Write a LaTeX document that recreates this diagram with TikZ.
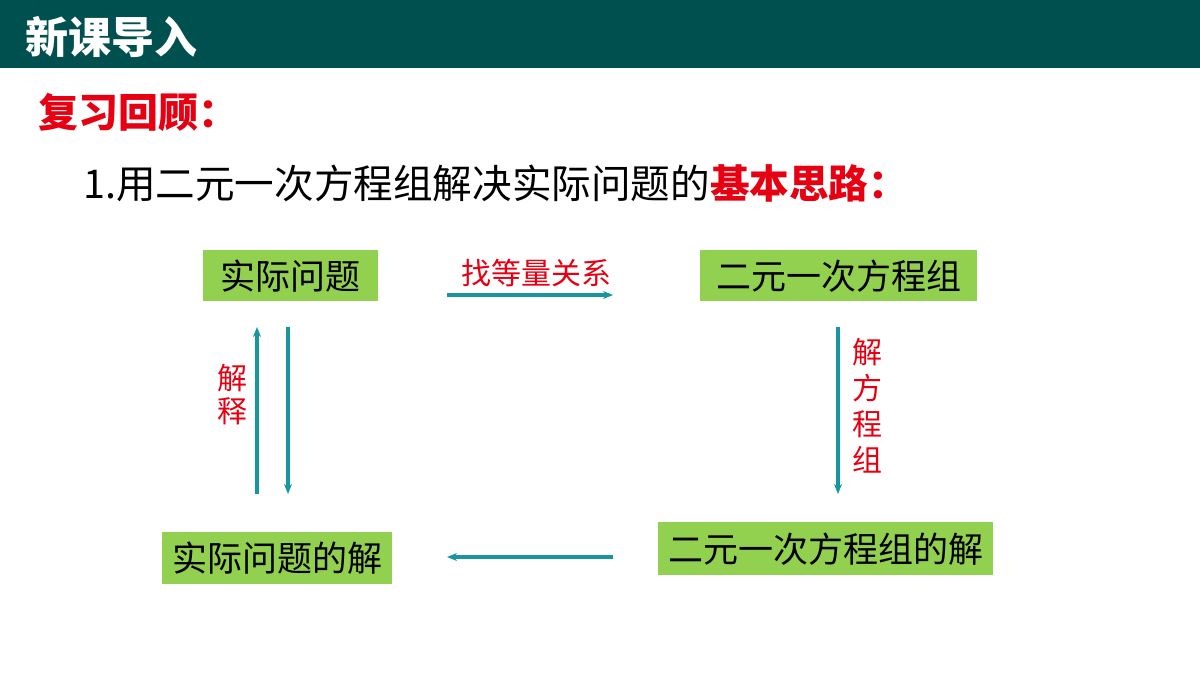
\documentclass[tikz,border=0pt]{standalone}
\usepackage{fontspec}
\setmainfont{Noto Sans CJK SC}
\usetikzlibrary{arrows.meta,positioning}
\definecolor{barteal}{RGB}{0,80,80}
\definecolor{boxgreen}{RGB}{146,208,80}
\definecolor{arrteal}{RGB}{24,150,160}
\definecolor{hired}{RGB}{230,0,18}
\tikzset{
  stepbox/.style={fill=boxgreen,inner sep=0pt,anchor=north west,font=\fontsize{17.5}{20}\selectfont},
  flow/.style={draw=arrteal,line width=1.6pt,-{Stealth[length=5pt,width=4pt]}},
  lab/.style={text=hired,font=\fontsize{15}{17}\selectfont,inner sep=0pt}
}
\begin{document}
\begin{tikzpicture}[x=0.5pt,y=-0.5pt]
    \useasboundingbox (0,0) rectangle (1200,675);
    %% header
    \fill[barteal] (0,0) rectangle (1200,68);
    \node[anchor=west,text=white,font=\bfseries\fontsize{21.5}{24}\selectfont] (title) at (18,37) {新课导入};
    \node[anchor=west,text=hired,font=\bfseries\fontsize{20}{24}\selectfont] (review) at (31,113) {复习回顾：};
    \node[anchor=west,font=\fontsize{19.8}{24}\selectfont] (point) at (76,183) {1.用二元一次方程组解决实际问题的\textcolor{hired}{\bfseries 基本思路：}};
    %% boxes
    \node[stepbox,minimum width=87.5pt,minimum height=25.5pt] (prob) at (203,250) {实际问题};
    \node[stepbox,minimum width=138.5pt,minimum height=25.5pt] (sys) at (700,250) {二元一次方程组};
    \node[stepbox,minimum width=115pt,minimum height=26pt] (ans) at (162,532) {实际问题的解};
    \node[stepbox,minimum width=167.5pt,minimum height=26.5pt] (sol) at (658,522) {二元一次方程组的解};
    %% arrow ends
    \coordinate (r1) at (447,295); \coordinate (r2) at (613,295);
    \coordinate (u1) at (257,494); \coordinate (u2) at (257,327);
    \coordinate (d1) at (288,327); \coordinate (d2) at (288,494);
    \coordinate (s1) at (838,327); \coordinate (s2) at (838,494);
    \coordinate (l1) at (613,557); \coordinate (l2) at (447,557);
    \draw[flow] (r1) -- (r2);
    \draw[flow] (u1) -- (u2);
    \draw[flow] (d1) -- (d2);
    \draw[flow] (s1) -- (s2);
    \draw[flow] (l1) -- (l2);
    %% labels
    \node[lab] (find) at (536,273) {找等量关系};
    \node[lab,align=center,font=\fontsize{15}{16.5}\selectfont] (expl) at (232,395) {解\\释};
    \node[lab,align=center,font=\fontsize{15}{18}\selectfont] (solve) at (867,406) {解\\方\\程\\组};
\end{tikzpicture}
\end{document}
